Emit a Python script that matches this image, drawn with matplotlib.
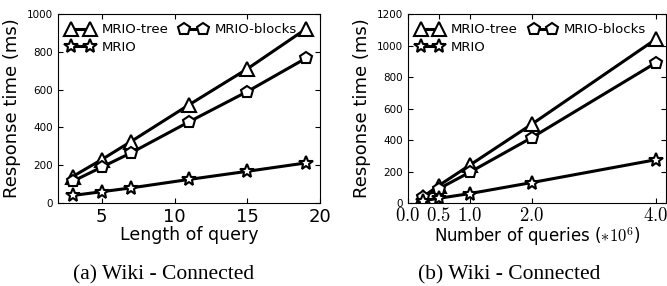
import matplotlib
matplotlib.use('Agg')
import matplotlib.pyplot as plt

plt.rcParams['mathtext.fontset'] = 'cm'

# (a) length of query
len_x = [3, 5, 7, 11, 15, 19]
len_tree = [140, 230, 325, 520, 710, 920]
len_blocks = [115, 190, 265, 430, 590, 765]
len_mrio = [40, 60, 80, 125, 168, 212]

# (b) number of queries (*10^6)
num_x = [0.25, 0.5, 1.0, 2.0, 4.0]
num_tree = [40, 110, 240, 500, 1040]
num_blocks = [40, 90, 195, 415, 890]
num_mrio = [15, 30, 60, 130, 275]
num_ticks = [0.0, 0.5, 1.0, 2.0, 4.0]

labels = ['MRIO-tree', 'MRIO-blocks', 'MRIO']
markers = ['^', 'p', '*']
msizes = [10, 9, 10]

fig = plt.figure(figsize=(6.67, 2.86), dpi=100)
ax1 = fig.add_axes([0.087, 0.29, 0.393, 0.661])
ax2 = fig.add_axes([0.611, 0.29, 0.388, 0.661])


def draw(ax, x, series):
    lines = []
    for y, lab, m, ms in zip(series, labels, markers, msizes):
        ln, = ax.plot(x, y, color='black', lw=2.2, marker=m, ms=ms,
                      mfc='white', mec='black', mew=1.5, label=lab)
        lines.append(ln)
    # column-wise fill: tree, blocks on first row, MRIO on second
    order = [lines[0], lines[2], lines[1]]
    ax.legend(handles=order, loc='upper left', ncol=2, frameon=False,
              numpoints=2, fontsize=9.5, handlelength=2.0,
              columnspacing=0.9, handletextpad=0.6, borderaxespad=0.3,
              labelspacing=0.35)
    ax.set_ylabel('Response time (ms)', fontsize=13)
    ax.tick_params(axis='y', labelsize=7.5, direction='in', right=True)
    ax.tick_params(axis='x', labelsize=13, direction='in', top=True)


draw(ax1, len_x, [len_tree, len_blocks, len_mrio])
ax1.set_xlim(2, 20)
ax1.set_ylim(0, 1000)
ax1.set_xticks([5, 10, 15, 20])
ax1.set_xlabel('Length of query', fontsize=12.5, labelpad=0)

draw(ax2, num_x, [num_tree, num_blocks, num_mrio])
ax2.set_xlim(0, 4.17)
ax2.set_ylim(0, 1200)
ax2.set_xticks(num_ticks)
ax2.set_xticklabels(['$%.1f$' % t for t in num_ticks])
ax2.tick_params(axis='x', labelsize=13.5, pad=2)
ax2.set_xlabel(r'Number of queries ($*10^6$)', fontsize=12, labelpad=0)

fig.text(0.109, 0.022, '(a) Wiki - Connected', fontsize=15.5,
         family='Liberation Serif', ha='left', va='baseline')
fig.text(0.627, 0.022, '(b) Wiki - Connected', fontsize=15.5,
         family='Liberation Serif', ha='left', va='baseline')

fig.savefig('out.png', dpi=100)
